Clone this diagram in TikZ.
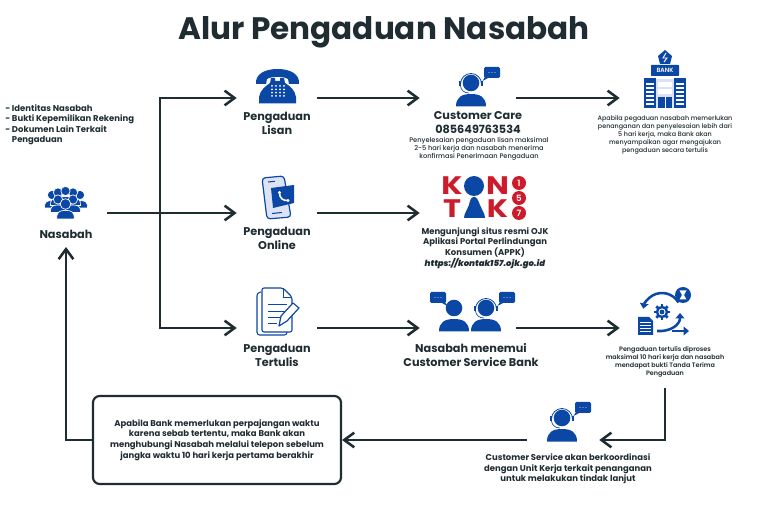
\documentclass[tikz,border=0pt]{standalone}
\usepackage{fontspec}
\setmainfont{Poppins}[BoldFont=* SemiBold,ItalicFont=* Italic,BoldItalicFont=* Bold Italic]
\newfontfamily\titlefont{Poppins}[UprightFont=* Bold]
\newfontfamily\medfont{Poppins}[UprightFont=* Medium]
\usetikzlibrary{arrows.meta}
\definecolor{inkdark}{HTML}{1F2D33}
\definecolor{iconblue}{HTML}{0B47A5}
\definecolor{iconpale}{HTML}{DDE2F4}
\definecolor{logored}{HTML}{CC1B2B}
\tikzset{
  flow/.style={draw=inkdark, line width=1.9pt, -{Straight Barb[length=7.5pt,width=11pt,line width=1.9pt]}},
  iconbox/.style={inner sep=0pt, minimum height=10pt},
  heading/.style={align=center, text=inkdark, font=\titlefont\fontsize{8.45}{10.6}\selectfont},
  boldnote/.style={align=center, text=inkdark, font=\titlefont\fontsize{6.35}{7.95}\selectfont},
  smallnote/.style={align=center, text=inkdark, font=\medfont\fontsize{5}{6}\selectfont},
  bubble/.pic={
    \fill[iconblue, rounded corners=1pt] (0,0) rectangle (16,11);
    \fill[iconblue] (1,10) -- (-1.5,14) -- (6,10) -- cycle;
    \foreach \dotx in {5,8,11} \fill[white!60!iconblue] (\dotx,5.5) circle (.6);
  },
  person/.pic={
    \fill[iconblue] (0,0) circle (8.3);
    \fill[iconblue] (-15,23.5) .. controls (-15,14) and (-9,11) .. (0,11) .. controls (9,11) and (15,14) .. (15,23.5) -- cycle;
  },
  agent/.pic={
    \pic {person};
    \draw[iconblue, line width=.6pt] (-10.5,1) arc (180:360:10.5);
    \fill[iconblue] (-12,-2) rectangle (-9.6,3);
    \fill[iconblue] (12,-2) rectangle (9.6,3);
    \draw[iconblue, line width=.5pt] (-10.5,3) .. controls (-10,7) and (-7,10) .. (-2,10);
    \pic at (13,-16) {bubble};
  },
  member/.pic={
    \draw[white, line width=.5pt, fill=iconblue] (-7.5,13) .. controls (-8,7) and (-5,5.5) .. (0,5.5) .. controls (5,5.5) and (8,7) .. (7.5,13) -- cycle;
    \draw[white, line width=.5pt, fill=iconblue] (0,0) circle (4.6);
  },
}
\begin{document}
\begin{tikzpicture}[x=0.75pt,y=-0.75pt]
\useasboundingbox (0,0) rectangle (768,513);
\node (title) at (384,32) {\titlefont\color{inkdark}\fontsize{23.3}{26}\selectfont Alur Pengaduan Nasabah};

\begin{scope}[every node/.style={iconbox}]
  \node[minimum width=61.5pt] (nasabah) at (66,213) {};
  \node[minimum width=60pt] (lisan) at (277,98) {};
  \node[minimum width=60pt] (online) at (277,213) {};
  \node[minimum width=60pt] (tertulis) at (277,328) {};
  \node[minimum width=72pt] (care) at (468,98) {};
  \node[minimum width=72pt] (kontak) at (468,213) {};
  \node[minimum width=72pt] (menemui) at (468,328) {};
  \node[minimum width=67.5pt] (bank) at (665,98) {};
  \node[minimum width=67.5pt] (proses) at (665,328) {};
  \node[minimum width=54pt] (service) at (563,440) {};
\end{scope}
\node[draw=inkdark, line width=1.6pt, rounded corners=5pt, minimum width=186pt, minimum height=66pt, boldnote] (perpanjangan) at (217,440) {Apabila Bank memerlukan perpajangan waktu\\karena sebab tertentu, maka Bank akan\\menghubungi Nasabah melalui telepon sebelum\\jangka waktu 10 hari kerja pertama berakhir};

% labels
\node[boldnote, align=left, anchor=north west, inner sep=0pt] (syarat) at (5,104) {- Identitas Nasabah\\- Bukti Kepemilikan Rekening\\- Dokumen Lain Terkait\\\phantom{- }Pengaduan};
\node[heading] (lnasabah) at (66,234) {Nasabah};
\node[heading] (llisan) at (277,123) {Pengaduan\\Lisan};
\node[heading] (lonline) at (277,238) {Pengaduan\\Online};
\node[heading] (ltertulis) at (277,355) {Pengaduan\\Tertulis};
\node[heading] (lcare) at (478,123) {Customer Care\\085649763534};
\node[smallnote] (ncare) at (479,149) {Penyelesaian pengaduan lisan maksimal\\2-5 hari kerja dan nasabah menerima\\konfirmasi Penerimaan Pengaduan};
\node[smallnote, font=\medfont\fontsize{4.8}{6}\selectfont] (nbank) at (665,134.5) {Apabila pegaduan nasabah memerlukan\\penanganan dan penyelesaian lebih dari\\5 hari kerja, maka Bank akan\\menyampaikan agar mengajukan\\pengaduan secara tertulis};
\node[boldnote] (nkontak) at (485,248) {Mengunjungi situs resmi OJK\\Aplikasi Portal Perlindungan\\Konsumen (APPK)\\\textbf{\textit{https://kontak157.ojk.go.id}}};
\node[heading] (lmenemui) at (471,355) {Nasabah menemui\\Customer Service Bank};
\node[smallnote, font=\bfseries\fontsize{4.8}{6}\selectfont] (nproses) at (665,362) {Pengaduan tertulis diproses\\maksimal 10 hari kerja dan nasabah\\mendapat bukti Tanda Terima\\Pengaduan};
\node[boldnote] (nservice) at (568,469) {Customer Service akan berkoordinasi\\dengan Unit Kerja terkait penanganan\\untuk melakukan tindak lanjut};

% connectors
\coordinate (branch) at (160,213);
\coordinate (turn) at (665,388);
\coordinate (rise) at (66,247);
\path (nasabah.east) edge[flow] (online.west);
\draw [flow] (branch) |- (lisan.west);
\draw [flow] (branch) |- (tertulis.west);
\path (lisan.east) edge[flow] (care.west);
\path (online.east) edge[flow] (kontak.west);
\path (tertulis.east) edge[flow] (menemui.west);
\path (care.east) edge[flow] (bank.west);
\path (menemui.east) edge[flow] (proses.west);
\draw [flow] (turn) |- (service.east);
\path (service.west) edge[flow] (perpanjangan.east);
\draw [flow] (perpanjangan.west) -| (rise);

% crowd
\foreach \hx/\hy in {52/195,80/195,58/192.5,73/192.5,65.5/191,58/199.5,73/199.5}
  \pic at (\hx,\hy) {member};
\pic[scale=1.15] at (65.5,204) {member};

% telephone
\fill[iconblue] (256,84) .. controls (255,74) and (265,69) .. (277.5,69) .. controls (290,69) and (300,74) .. (299,84) -- (289,84) -- (288,79) .. controls (283,76) and (272,76) .. (267,79) -- (266,84) -- cycle;
\fill[iconblue] (259,103.5) -- (259,97) .. controls (260,90) and (266,86) .. (270,83) -- (271,78) -- (275,78) -- (275,81) -- (280,81) -- (280,78) -- (284,78) -- (285,83) .. controls (290,86) and (295,90) .. (296,97) -- (296,103.5) -- cycle;
\foreach \kx in {272,276,280,284} \foreach \ky in {86,89.3,92.6,95.9}
  \fill[white] (\kx,\ky) circle (1);

% mobile
\draw[iconblue, line width=.9pt, fill=iconpale, rounded corners=2.5pt] (262,178) -- (284,176) -- (291,217) -- (267,219) -- cycle;
\fill[iconblue] (271,188) -- (294,185) -- (294,203) -- (273,208) -- cycle;
\draw[white, line width=1.2pt, line cap=round] (279.5,193) .. controls (279.5,198) and (283,201) .. (288,200.5);
\fill[white] (279.5,192.5) circle (1.6);
\fill[white] (288,200.5) circle (1.6);
\draw[iconblue, line width=.8pt] (272,213.5) -- (282,212.5);
\draw[iconblue, line width=.8pt] (268,182) -- (275,181.3);

% written complaint
\draw[iconblue, line width=.8pt, fill=white, rounded corners=2pt] (261,292) -- (257,293) -- (257,335) -- (287,335) -- (287,331);
\draw[iconblue, line width=.8pt, fill=white, rounded corners=1.5pt] (262,288) -- (283,288) -- (292,297) -- (292,332) -- (262,332) -- cycle;
\draw[iconblue, line width=.6pt] (283,288) -- (283,297) -- (292,297);
\foreach \ly/\lx in {304/287,311/285,317/283,323/277}
  \draw[iconblue, line width=.7pt] (268,\ly) -- (\lx,\ly);
\draw[iconblue, line width=.9pt, fill=white, line join=round] (279,326) -- (281,316) -- (293,303) -- (299,308) -- (287,321) -- cycle;

% agents and people
\pic at (471,83) {agent};
\pic at (486,308) {agent};
\pic at (454,308) {person};
\pic[xscale=-1] at (446,292) {bubble};
\pic at (562,418) {agent};

% bank
\fill[iconblue] (665,50) -- (672,56) -- (670,64) -- (660,64) -- (658,56) -- cycle;
\draw[white, line width=.7pt] (666,53) -- (663,58) -- (667,58) -- (664,62);
\fill[iconblue, rounded corners=.5pt] (651,65) rectangle (679,76);
\node[text=white, inner sep=0pt, font=\bfseries\fontsize{4.6}{5}\selectfont] (banksign) at (665,70.5) {BANK};
\fill[iconpale] (656,79) rectangle (674,108);
\fill[white] (658,82) rectangle (672,87);
\fill[white] (658,89) rectangle (672,94);
\fill[iconblue] (644,78) rectangle (656,108);
\fill[iconblue] (674,78) rectangle (686,108);
\foreach \by in {83,87,91,95,99,103} {
  \fill[white] (646,\by) rectangle (654,\by+1.6);
  \fill[white] (676,\by) rectangle (684,\by+1.6);
}
\fill[iconblue] (658,97) rectangle (672,108);
\draw[white, line width=.4pt] (665,97) -- (665,108);

% kontak logo
\begin{scope}[every node/.style={inner sep=0pt, text=logored, text height=13pt, text depth=0pt, xscale=1.2, transform shape, font=\titlefont\fontsize{19}{19}\selectfont}]
  \node (k1) at (452,186) {K};
  \node (n1) at (497.5,186) {N};
  \node (t1) at (452,208.5) {T};
  \node (k2) at (497.5,208.5) {K};
\end{scope}
\fill[iconblue] (474,186) circle (10);
\fill[iconblue] (474,197) .. controls (477,197) and (478,200) .. (480,205) .. controls (482,210) and (485,214) .. (485,218) -- (464,218) .. controls (464,214) and (467,210) .. (469,205) .. controls (470,200) and (471,197) .. (474,197) -- cycle;
\begin{scope}[every node/.style={circle, fill=logored, minimum size=10.5pt, inner sep=0pt, text=white, font=\bfseries\fontsize{6.5}{7}\selectfont}]
  \node (d1) at (519,183) {1};
  \node (d5) at (519,198) {5};
  \node (d7) at (519,213) {7};
\end{scope}

% process
\draw[iconblue, line width=1.9pt, -{Triangle[length=4pt,width=6.5pt]}] ([shift={(330:19)}]662,312) arc (330:190:19);
\draw[iconblue, line width=1.9pt, -{Triangle[length=4pt,width=6.5pt]}] (657,331) .. controls (670,332) and (680,325) .. (680,313);
\draw[iconblue, line width=1.8pt, -{Triangle[length=4pt,width=6.5pt]}] (672,331) -- (689,331);
\foreach \ga in {0,45,...,315}
  \draw[iconblue, line width=2pt] (662,312) -- ++(\ga:8);
\fill[iconblue] (662,312) circle (6);
\fill[white] (662,312) circle (3.6);
\fill[iconblue] (662,312) circle (2.4);
\fill[iconblue] (683,295) circle (8);
\fill[white] (679.5,290.5) -- (686.5,290.5) -- (684,295) -- (686.5,299.5) -- (679.5,299.5) -- (682,295) -- cycle;
\fill[iconblue] (638,317) -- (649,317) -- (653,321) -- (653,335) -- (638,335) -- cycle;
\foreach \ly in {322,325,328,331}
  \draw[white, line width=.6pt] (640,\ly) -- (651,\ly);
\end{tikzpicture}
\end{document}
